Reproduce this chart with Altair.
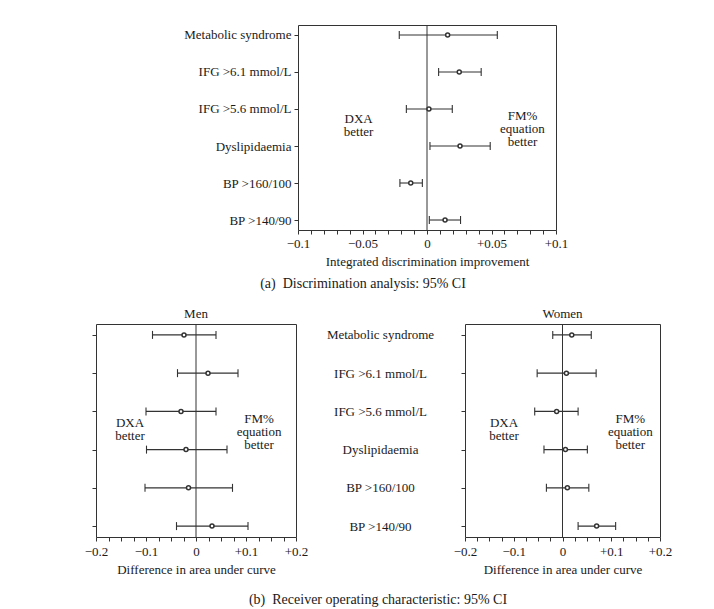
import json
import altair as alt
import pandas as pd

categories = ["Metabolic syndrome", "IFG >6.1 mmol/L", "IFG >5.6 mmol/L",
              "Dyslipidaemia", "BP >160/100", "BP >140/90"]
rows = [1, 2, 3, 4, 5, 6]

# (a) Integrated discrimination improvement
idi_est = [0.016, 0.025, 0.0015, 0.0256, -0.0126, 0.014]
idi_lo = [-0.0215, 0.009, -0.016, 0.0023, -0.021, 0.0018]
idi_hi = [0.0545, 0.042, 0.0196, 0.049, -0.0036, 0.026]

# (b) Difference in AUC, men
men_est = [-0.024, 0.024, -0.030, -0.020, -0.015, 0.032]
men_lo = [-0.087, -0.037, -0.100, -0.099, -0.102, -0.039]
men_hi = [0.040, 0.084, 0.040, 0.062, 0.073, 0.104]

# (b) Difference in AUC, women
women_est = [0.019, 0.008, -0.012, 0.006, 0.010, 0.070]
women_lo = [-0.020, -0.052, -0.057, -0.038, -0.033, 0.032]
women_hi = [0.059, 0.069, 0.032, 0.051, 0.054, 0.109]

top_ticks = [-0.1, -0.09, -0.08, -0.07, -0.06, -0.05, -0.04, -0.03, -0.02, -0.01, 0,
             0.01, 0.02, 0.03, 0.04, 0.05, 0.06, 0.07, 0.08, 0.09, 0.1]
bot_ticks = [-0.2, -0.175, -0.15, -0.125, -0.1, -0.075, -0.05, -0.025, 0,
             0.025, 0.05, 0.075, 0.1, 0.125, 0.15, 0.175, 0.2]

# annotation texts: (x, row position of first line, text)
top_ann = [(-0.053, 3.27, "DXA\nbetter"), (0.074, 3.19, "FM%\nequation\nbetter")]
men_ann = [(-0.132, 3.31, "DXA\nbetter"), (0.126, 3.21, "FM%\nequation\nbetter")]
women_ann = [(-0.120, 3.31, "DXA\nbetter"), (0.139, 3.21, "FM%\nequation\nbetter")]

FONT = "Liberation Serif"
C = "#333333"
TXT = "#1a1a1a"


def label_expr(mult):
    return (f"abs(datum.value*{mult} - round(datum.value*{mult})) < 0.001 ? "
            "(datum.value > 0.0001 ? '+' + format(datum.value, '~g') : "
            "(datum.value < -0.0001 ? '\u2212' + format(-datum.value, '~g') : '0')) : ''")


def panel(est, lo, hi, dom, ticks, mult, xtitle, width, height, ypad, ann, yaxis, lpad):
    df = pd.DataFrame({"row": rows, "est": est, "lo": lo, "hi": hi})
    adf = pd.DataFrame({"ax": [a[0] for a in ann], "ay": [a[1] for a in ann],
                        "t": [a[2] for a in ann]})
    xs = alt.Scale(domain=dom, nice=False, zero=False)
    ys = alt.Scale(domain=[1 - ypad, 6 + ypad], reverse=True, nice=False, zero=False)
    xaxis = alt.Axis(values=ticks, labelExpr=label_expr(mult), title=xtitle,
                     labelOverlap=False, labelFlush=False, grid=False, domain=False,
                     tickSize=4, tickColor=C, labelPadding=lpad, titlePadding=5,
                     labelFontSize=13, titleFontSize=13, titleFontWeight="normal",
                     labelColor=TXT, titleColor=TXT)

    def X(f):
        return alt.X(f, type="quantitative", scale=xs, axis=xaxis)

    def Y(f):
        return alt.Y(f, type="quantitative", scale=ys, axis=yaxis)

    base = alt.Chart(df)
    zero = alt.Chart(pd.DataFrame({"z": [0]})).mark_rule(color=C, strokeWidth=1).encode(x=X("z"))
    bars = base.mark_rule(color=C, strokeWidth=1.1).encode(x=X("lo"), x2="hi", y=Y("row"))
    cap_lo = base.mark_point(shape="M0,-1L0,1", size=64, color=C, strokeWidth=1.1,
                             opacity=1, filled=False).encode(x=X("lo"), y=Y("row"))
    cap_hi = base.mark_point(shape="M0,-1L0,1", size=64, color=C, strokeWidth=1.1,
                             opacity=1, filled=False).encode(x=X("hi"), y=Y("row"))
    pts = base.mark_circle(size=16, fill="white", stroke=C, strokeWidth=1.5,
                           opacity=1).encode(x=X("est"), y=Y("row"))
    txt = alt.Chart(adf).mark_text(lineBreak="\n", font=FONT, fontSize=13, color=TXT,
                                   lineHeight=13).encode(x=X("ax"), y=Y("ay"), text="t:N")
    return alt.layer(zero, bars, cap_lo, cap_hi, pts, txt).properties(width=width, height=height)


lookup = f"{json.dumps(categories)}[datum.value - 1]"

top_y = alt.Axis(values=rows, labelExpr=lookup, title=None, grid=False, domain=False,
                 tickSize=4, tickColor=C, labelPadding=3, labelFontSize=13,
                 labelColor=TXT)
men_y = alt.Axis(values=rows, labels=False, title=None, grid=False, domain=False,
                 tickSize=4, tickColor=C)
women_y = alt.Axis(values=rows, labelExpr=lookup, title=None, grid=False, domain=False,
                   tickSize=4, tickColor=C, labelAlign="center", labelPadding=81,
                   labelFontSize=13, labelColor=TXT)

top = panel(idi_est, idi_lo, idi_hi, [-0.1, 0.1], top_ticks, 20,
            "Integrated discrimination improvement", 258, 205, 0.27, top_ann, top_y, 3)
top = top.properties(title=alt.Title("(a)\u2002Discrimination analysis: 95% CI", orient="bottom",
                                     fontSize=14, fontWeight="normal", offset=9, dx=-64,
                                     color=TXT))

men = panel(men_est, men_lo, men_hi, [-0.2, 0.2], bot_ticks, 10,
            "Difference in area under curve", 200, 213, 0.285, men_ann, men_y, 4)
men = men.properties(title=alt.Title("Men", fontSize=13, fontWeight="normal", offset=3, color=TXT))

women = panel(women_est, women_lo, women_hi, [-0.2, 0.2], bot_ticks, 10,
              "Difference in area under curve", 195, 213, 0.285, women_ann, women_y, 4)
women = women.properties(title=alt.Title("Women", fontSize=13, fontWeight="normal", offset=3, color=TXT))

spacer = alt.Chart(pd.DataFrame({"v": [0]})).mark_point(opacity=0, size=1).encode(
    x=alt.value(1), y=alt.value(100)).properties(width=1, height=205,
                                                 view=alt.ViewBackground(stroke="transparent"))

top_group = alt.hconcat(spacer, top, spacing=201, bounds="flush")
bottom_group = alt.hconcat(men, women, spacing=169, bounds="flush")

chart = alt.vconcat(top_group, bottom_group, spacing=15).properties(
    title=alt.Title("(b)\u2002Receiver operating characteristic: 95% CI",
                    orient="bottom", anchor="middle", fontSize=14, fontWeight="normal",
                    offset=16, color=TXT),
    padding={"left": 75, "top": 16, "right": 5, "bottom": 5}
).configure(font=FONT).configure_view(stroke=C, strokeWidth=1).configure_title(
    font=FONT, fontWeight="normal"
).configure_axis(labelFont=FONT, titleFont=FONT)

chart.save("out.html", embed_options={"renderer": "svg", "actions": False})
